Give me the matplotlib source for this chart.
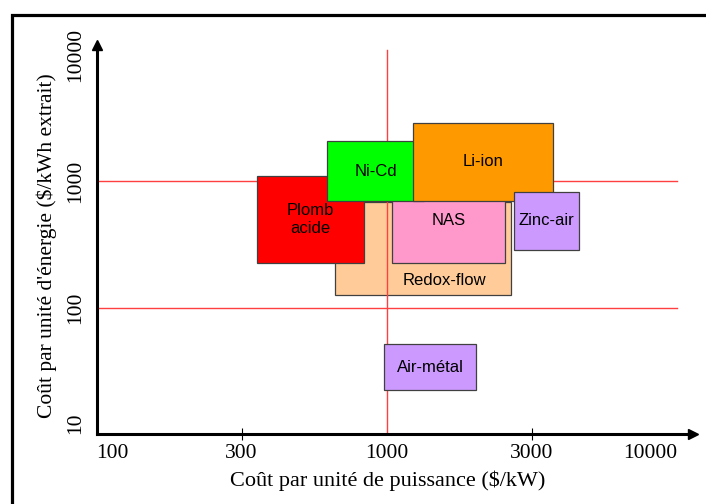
import matplotlib
matplotlib.use("Agg")
import matplotlib.pyplot as plt
import matplotlib.patches as patches
from matplotlib.ticker import FixedLocator
import numpy as np

# --- data ---
names = ["Redox-flow", "NAS", "Plomb\nacide", "Ni-Cd", "Li-ion", "Zinc-air", "Air-métal"]
power_lo = [650, 1040, 340, 610, 1220, 2630, 975]      # $/kW
power_hi = [2560, 2450, 830, 1330, 3580, 4440, 1970]
energy_lo = [125, 225, 225, 700, 705, 287, 22.3]        # $/kWh
energy_hi = [680, 1050, 1110, 2080, 2920, 826, 51.5]
colors = ["#ffcc99", "#ff99cc", "#ff0000", "#00ff00", "#ff9900", "#cc99ff", "#cc99ff"]

# label placed off-centre in the original
label_pos = {"Redox-flow": (1550, 163)}

x_ticks = [100, 300, 1000, 3000, 10000]
y_ticks = [10, 100, 1000, 10000]
ref_energy = [100, 1000]   # horizontal red lines
ref_power = 1000           # vertical red line

# x axis: the five ticks are evenly spaced (100, 300, 1000, 3000, 10000)
anchors_log = np.log10([10, 30, 100, 300, 1000, 3000, 10000, 30000])
anchors_pos = np.arange(len(anchors_log), dtype=float) - 2


def fwd(v):
    v = np.asarray(v, dtype=float)
    return np.interp(np.log10(np.clip(v, 1e-9, None)), anchors_log, anchors_pos)


def inv(t):
    return 10 ** np.interp(np.asarray(t, dtype=float), anchors_pos, anchors_log)


fig = plt.figure(figsize=(7.06, 5.04), dpi=100)
ax = fig.add_axes([96.5 / 706, 70 / 504, (693 - 96.5) / 706, (459 - 70) / 504])
ax.set_xscale("function", functions=(fwd, inv))
ax.set_yscale("log")
ax.set_xlim(100, 11300)
ax.set_ylim(10, 12000)

red = "#ff4040"
edge = "#404040"


def draw_box(i, z):
    r = patches.Rectangle((power_lo[i], energy_lo[i]), power_hi[i] - power_lo[i],
                          energy_hi[i] - energy_lo[i], facecolor=colors[i],
                          edgecolor=edge, linewidth=0.9, zorder=z)
    ax.add_patch(r)
    name = names[i]
    if name in label_pos:
        tx, ty = label_pos[name]
    else:
        tx = inv((fwd(power_lo[i]) + fwd(power_hi[i])) / 2)
        ty = np.sqrt(energy_lo[i] * energy_hi[i])
    ax.text(tx, ty, name, ha="center", va="center", fontsize=12,
            family="Liberation Sans", zorder=z + 0.1, linespacing=1.25)


# Redox-flow box sits beneath the red reference lines
draw_box(0, 1)
for e in ref_energy:
    ax.plot([x_ticks[0], x_ticks[-1]], [e, e], color=red, lw=1, zorder=2)
ax.plot([ref_power, ref_power], [10, 11000], color=red, lw=1, zorder=2)
for i in range(1, len(names)):
    draw_box(i, 3 + i)

# axes look: only left/bottom with arrows
for s in ["top", "right"]:
    ax.spines[s].set_visible(False)
for s in ["left", "bottom"]:
    ax.spines[s].set_linewidth(2.2)
    ax.spines[s].set_zorder(20)
ax.plot(1, 0, marker=">", color="k", markersize=7, transform=ax.transAxes, clip_on=False, zorder=21)
ax.plot(0, 1, marker="^", color="k", markersize=7, transform=ax.transAxes, clip_on=False, zorder=21)

serif = "Liberation Serif"
ax.xaxis.set_major_locator(FixedLocator(x_ticks))
ax.set_xticklabels([str(v) for v in x_ticks], fontsize=15.5, family=serif)
ax.tick_params(axis="x", which="major", direction="inout", length=9, width=0.8, pad=3)
# only the 300 and 3000 tick marks show in the original
for k, t in enumerate(ax.xaxis.get_major_ticks()):
    if x_ticks[k] not in (300, 3000):
        t.tick1line.set_visible(False)
labs = ax.get_xticklabels()
labs[0].set_horizontalalignment("left")
labs[-1].set_horizontalalignment("right")
labs[-1].set_x(1)

ax.yaxis.set_major_locator(FixedLocator(y_ticks))
ax.yaxis.set_minor_locator(FixedLocator([]))
ax.set_yticklabels([str(v) for v in y_ticks], fontsize=15.5, family=serif,
                   rotation=90, va="center")
ax.tick_params(axis="y", which="both", length=0, pad=8)
ylabs = ax.get_yticklabels()
ylabs[0].set_verticalalignment("bottom")

ax.set_xlabel("Coût par unité de puissance ($/kW)", fontsize=16, family=serif)
ax.xaxis.set_label_coords(0.488, -0.095)
ax.set_ylabel("Coût par unité d'énergie ($/kWh extrait)", fontsize=15.5, family=serif)
ax.yaxis.set_label_coords(-0.066, 0.485)

# frame around the picture (only left and top edges show)
fig.patches.append(patches.Rectangle((11.5 / 706, -0.1), 1.2, 1.1 - 15.5 / 504,
                                     transform=fig.transFigure, fill=False,
                                     edgecolor="k", linewidth=2.3))

fig.savefig("out.png", dpi=100)
